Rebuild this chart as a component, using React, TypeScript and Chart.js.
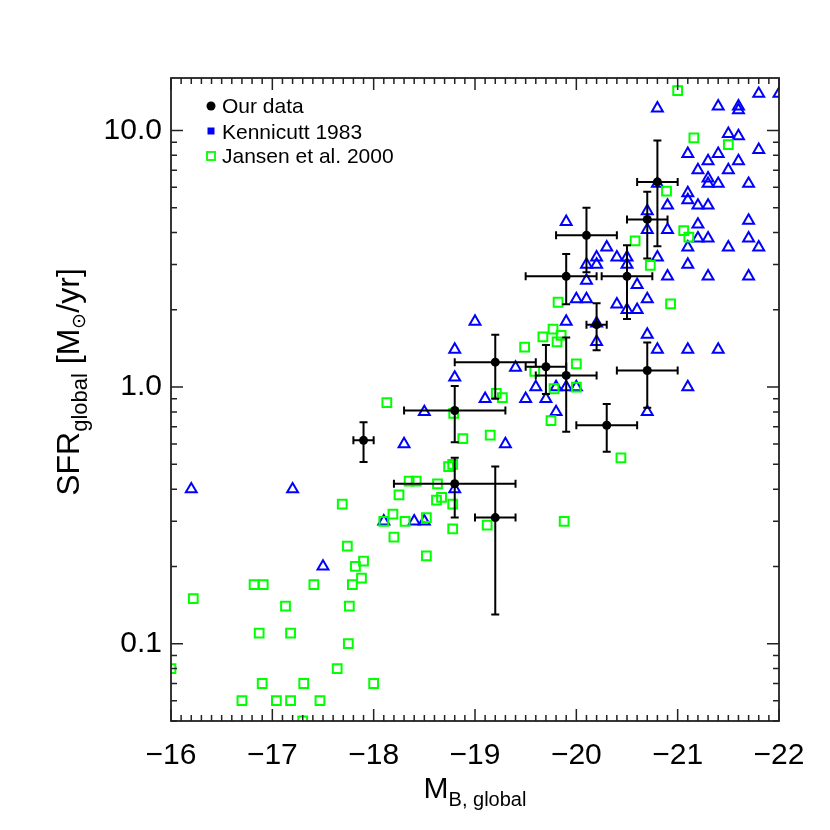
import { useEffect, useRef } from "react";
import { Chart, registerables } from "chart.js";

Chart.register(...registerables);

const FONT = '"Liberation Sans", Arial, Helvetica, sans-serif';

// ---- Our data (with error bars) ----
const ourMag = [-17.9, -18.8, -18.8, -19.2, -19.2, -19.7, -19.9, -19.9, -20.1, -20.2, -20.5, -20.3, -20.7, -20.7, -20.8];
const ourSfr = [0.62, 0.81, 0.42, 1.25, 0.31, 1.2, 1.11, 2.7, 3.9, 1.75, 2.7, 0.71, 4.5, 1.16, 6.3];
const ourMagFaint = [-17.8, -18.3, -18.2, -18.8, -19.0, -19.5, -19.6, -19.5, -19.8, -20.1, -20.25, -20.0, -20.5, -20.4, -20.6];
const ourMagBright = [-18.0, -19.3, -19.4, -19.6, -19.4, -19.9, -20.2, -20.2, -20.4, -20.3, -20.75, -20.6, -20.9, -21.0, -21.0];
const ourSfrLow = [0.51, 0.61, 0.31, 0.9, 0.13, 0.94, 0.67, 2.1, 2.8, 1.39, 1.84, 0.56, 3.17, 0.83, 3.54];
const ourSfrHigh = [0.73, 1.01, 0.53, 1.6, 0.49, 1.46, 1.56, 3.3, 5.0, 2.12, 3.57, 0.86, 5.77, 1.49, 9.14];

// ---- Kennicutt 1983 ----
const kenMag = [
  -20.8, -21.4, -21.6, -21.6, -21.8, -22.0, -21.5, -21.6, -21.1, -21.4,
  -21.8, -21.3, -21.6, -21.2, -21.5, -21.3, -21.3, -21.4, -21.7, -20.8,
  -21.1, -21.1, -20.9, -21.2, -21.3, -20.7, -19.9, -21.2, -21.7, -20.7,
  -20.9, -21.2, -21.3, -21.7, -20.3, -21.1, -21.5, -21.8, -20.2, -20.4,
  -20.5, -20.8, -20.1, -20.2, -20.5, -21.1, -20.1, -20.6, -20.9, -21.3,
  -21.7, -20.0, -20.1, -20.4, -20.5, -20.6, -20.7, -19.9, -20.2, -20.2,
  -20.7, -20.8, -21.1, -21.4, -19.9, -21.1, -19.4, -19.6, -19.8, -20.0,
  -19.1, -19.5, -19.7, -19.8, -20.7, -19.3, -19.0, -18.8, -18.8, -18.5,
  -18.3, -16.2, -17.2, -18.8, -18.1, -18.4, -18.5, -17.5,
];
const kenSfr = [
  12.2, 12.4, 12.4, 12.0, 13.9, 13.9, 9.7, 9.5, 8.1, 8.1,
  8.4, 7.6, 7.6, 7.0, 7.0, 6.5, 6.2, 6.2, 6.2, 6.2,
  5.7, 5.35, 5.1, 5.1, 5.1, 4.85, 4.4, 4.3, 4.45, 4.1,
  4.1, 3.8, 3.8, 3.8, 3.5, 3.5, 3.5, 3.5, 3.2, 3.2,
  3.2, 3.2, 3.0, 3.0, 3.0, 3.0, 2.6, 2.5, 2.7, 2.7,
  2.7, 2.2, 2.2, 2.1, 2.0, 2.0, 2.2, 1.8, 1.77, 1.5,
  1.6, 1.4, 1.4, 1.4, 1.0, 1.0, 1.19, 1.0, 1.0, 1.0,
  0.9, 0.9, 0.9, 0.8, 0.8, 0.6, 1.8, 1.4, 1.09, 0.8,
  0.6, 0.4, 0.4, 0.4, 0.3, 0.3, 0.3, 0.2,
];

// ---- Jansen et al. 2000 ----
const janMag = [
  -21.0, -21.16, -21.5, -20.89, -21.06, -21.11, -20.58, -20.73, -20.93, -19.82,
  -19.77, -19.67, -19.85, -19.81, -19.49, -20.0, -19.59, -19.21, -19.27, -19.78,
  -20.0, -19.75, -19.15, -20.44, -18.13, -18.79, -18.88, -18.74, -18.78, -18.35,
  -18.42, -18.63, -18.25, -18.62, -18.67, -18.78, -17.69, -18.19, -18.52, -18.31,
  -18.1, -19.12, -19.88, -18.78, -18.2, -17.74, -18.52, -17.9, -17.82, -17.88,
  -17.79, -17.41, -16.82, -16.91, -17.13, -17.76, -16.22, -16.87, -17.18, -17.75,
  -16.0, -17.64, -16.9, -17.31, -18.0, -16.7, -17.04, -17.18, -17.47, -17.3,
];
const janSfr = [
  14.3, 9.35, 8.8, 5.8, 4.07, 3.84, 3.71, 2.98, 2.11, 2.14,
  1.68, 1.57, 1.59, 1.5, 1.43, 1.23, 1.15, 0.945, 0.91, 0.985,
  1.0, 0.74, 0.65, 0.53, 0.87, 0.79, 0.63, 0.49, 0.5, 0.43,
  0.43, 0.42, 0.38, 0.363, 0.372, 0.35, 0.35, 0.32, 0.31, 0.3,
  0.3, 0.29, 0.3, 0.28, 0.26, 0.24, 0.22, 0.21, 0.2, 0.18,
  0.17, 0.17, 0.17, 0.17, 0.14, 0.14, 0.15, 0.11, 0.11, 0.1,
  0.08, 0.08, 0.07, 0.07, 0.07, 0.06, 0.06, 0.06, 0.06, 0.05,
];

// ---- Axes ----
const xTickValues = [-16, -17, -18, -19, -20, -21, -22];
const yTickValues = [0.1, 1, 10];
const yTickLabels = ["0.1", "1.0", "10.0"];
const legendLabels = ["Our data", "Kennicutt 1983", "Jansen et al. 2000"];

const CAP = 4;

type Seg = { t: string; size: number; dy: number };

function drawRich(ctx: CanvasRenderingContext2D, segs: Seg[], cx: number, baseY: number) {
  let total = 0;
  for (const s of segs) {
    ctx.font = `${s.size}px ${FONT}`;
    total += ctx.measureText(s.t).width;
  }
  let x = cx - total / 2;
  ctx.textAlign = "left";
  ctx.textBaseline = "alphabetic";
  for (const s of segs) {
    ctx.font = `${s.size}px ${FONT}`;
    ctx.fillText(s.t, x, baseY + s.dy);
    x += ctx.measureText(s.t).width;
  }
}

const decor = {
  id: "decor",
  beforeDatasetDraw(chart: any, args: any) {
    if (args.index !== 0) return;
    const { ctx } = chart;
    const xs = chart.scales.x;
    const ys = chart.scales.y;
    ctx.save();
    ctx.strokeStyle = "#000";
    ctx.lineWidth = 2;
    for (let i = 0; i < ourMag.length; i++) {
      const px = xs.getPixelForValue(ourMag[i]);
      const py = ys.getPixelForValue(ourSfr[i]);
      const x1 = xs.getPixelForValue(ourMagFaint[i]);
      const x2 = xs.getPixelForValue(ourMagBright[i]);
      const y1 = ys.getPixelForValue(ourSfrLow[i]);
      const y2 = ys.getPixelForValue(ourSfrHigh[i]);
      ctx.beginPath();
      ctx.moveTo(x1, py); ctx.lineTo(x2, py);
      ctx.moveTo(x1, py - CAP); ctx.lineTo(x1, py + CAP);
      ctx.moveTo(x2, py - CAP); ctx.lineTo(x2, py + CAP);
      ctx.moveTo(px, y1); ctx.lineTo(px, y2);
      ctx.moveTo(px - CAP, y1); ctx.lineTo(px + CAP, y1);
      ctx.moveTo(px - CAP, y2); ctx.lineTo(px + CAP, y2);
      ctx.stroke();
    }
    ctx.restore();
  },
  afterDraw(chart: any) {
    const { ctx, chartArea } = chart;
    const { left, right, top, bottom } = chartArea;
    const xs = chart.scales.x;
    const ys = chart.scales.y;
    ctx.save();
    // frame
    ctx.strokeStyle = "#222";
    ctx.lineWidth = 1.8;
    ctx.strokeRect(left, top, right - left, bottom - top);
    // x ticks (inward, bottom and top)
    ctx.lineWidth = 1.5;
    ctx.beginPath();
    for (let k = 160; k <= 220; k++) {
      const v = -k / 10;
      const px = xs.getPixelForValue(v);
      const len = k % 10 === 0 ? 12 : 6;
      ctx.moveTo(px, bottom); ctx.lineTo(px, bottom - len);
      ctx.moveTo(px, top); ctx.lineTo(px, top + len);
    }
    // y ticks (log)
    for (let d = -2; d <= 1; d++) {
      for (let m = 1; m <= 9; m++) {
        const v = m * Math.pow(10, d);
        if (v < 0.05 - 1e-9 || v > 16) continue;
        const py = ys.getPixelForValue(v);
        const len = m === 1 ? 12 : 6;
        ctx.moveTo(left, py); ctx.lineTo(left + len, py);
        ctx.moveTo(right, py); ctx.lineTo(right - len, py);
      }
    }
    ctx.stroke();

    // legend
    ctx.fillStyle = "#000";
    ctx.font = `21px ${FONT}`;
    ctx.textAlign = "left";
    ctx.textBaseline = "alphabetic";
    const lx = left + 40;
    ctx.beginPath();
    ctx.arc(lx, top + 28, 4.5, 0, Math.PI * 2);
    ctx.fill();
    ctx.fillText(legendLabels[0], lx + 11, top + 35);
    ctx.fillStyle = "#0000ff";
    ctx.fillRect(lx - 3.5, top + 53 - 3.5, 7, 7);
    ctx.fillStyle = "#000";
    ctx.fillText(legendLabels[1], lx + 11, top + 61);
    ctx.strokeStyle = "#00ff00";
    ctx.lineWidth = 1.8;
    ctx.strokeRect(lx - 4, top + 78 - 4, 8, 8);
    ctx.fillText(legendLabels[2], lx + 11, top + 85);

    // x title
    drawRich(ctx, [
      { t: "M", size: 30, dy: 0 },
      { t: "B, global", size: 20, dy: 8 },
    ], (left + right) / 2, 798);

    // y title (rotated)
    ctx.save();
    ctx.translate(79, 382);
    ctx.rotate(-Math.PI / 2);
    drawRich(ctx, [
      { t: "SFR", size: 32, dy: 0 },
      { t: "global", size: 22, dy: 8 },
      { t: " [M", size: 32, dy: 0 },
      { t: "\u2299", size: 19, dy: 6 },
      { t: "/yr]", size: 32, dy: 0 },
    ], 0, 0);
    ctx.restore();

    ctx.restore();
  },
};

export default function App() {
  const ref = useRef<HTMLCanvasElement>(null);
  useEffect(() => {
    const canvas = ref.current!;
    const chart = new Chart(canvas, {
      type: "scatter",
      data: {
        datasets: [
          {
            label: legendLabels[0],
            data: ourMag.map((x, i) => ({ x, y: ourSfr[i] })),
            pointStyle: "circle",
            pointRadius: 4.5,
            backgroundColor: "#000",
            borderColor: "#000",
            borderWidth: 0,
            order: 0,
            clip: 0,
          },
          {
            label: legendLabels[2],
            data: janMag.map((x, i) => ({ x, y: janSfr[i] })),
            pointStyle: "rect",
            pointRadius: 6.2,
            backgroundColor: "rgba(0,0,0,0)",
            borderColor: "#00ff00",
            borderWidth: 2,
            order: 1,
            clip: 0,
          },
          {
            label: legendLabels[1],
            data: kenMag.map((x, i) => ({ x, y: kenSfr[i] })),
            pointStyle: "triangle",
            pointRadius: 6.3,
            backgroundColor: "rgba(0,0,0,0)",
            borderColor: "#0000ff",
            borderWidth: 2,
            order: 2,
            clip: 0,
          },
        ],
      },
      options: {
        animation: false,
        responsive: false,
        devicePixelRatio: 1,
        events: [],
        layout: { padding: { top: 78, right: 51, bottom: 0, left: 0 } },
        plugins: { legend: { display: false }, tooltip: { enabled: false } },
        scales: {
          x: {
            type: "linear",
            min: -22,
            max: -16,
            reverse: true,
            grid: { display: false, drawTicks: false },
            border: { display: false },
            afterFit: (s: any) => { s.height = 109; },
            afterBuildTicks: (s: any) => { s.ticks = xTickValues.map((v) => ({ value: v })); },
            ticks: {
              autoSkip: false,
              maxRotation: 0,
              color: "#000",
              padding: 17,
              font: { size: 30, family: FONT },
              callback: (v: any) => "\u2212" + Math.abs(Number(v)),
            },
          },
          y: {
            type: "logarithmic",
            min: 0.05,
            max: 16,
            grid: { display: false, drawTicks: false },
            border: { display: false },
            afterFit: (s: any) => { s.width = 171; },
            afterBuildTicks: (s: any) => { s.ticks = yTickValues.map((v) => ({ value: v })); },
            ticks: {
              autoSkip: false,
              color: "#000",
              padding: 9,
              font: { size: 30, family: FONT },
              callback: (_v: any, i: number) => yTickLabels[i],
            },
          },
        },
      },
      plugins: [decor],
    } as any);
    return () => chart.destroy();
  }, []);
  return (
    <div style={{ position: "absolute", left: 0, top: 0, width: 830, height: 830, background: "#fff" }}>
      <canvas ref={ref} width={830} height={830} style={{ display: "block", width: 830, height: 830 }} />
    </div>
  );
}
